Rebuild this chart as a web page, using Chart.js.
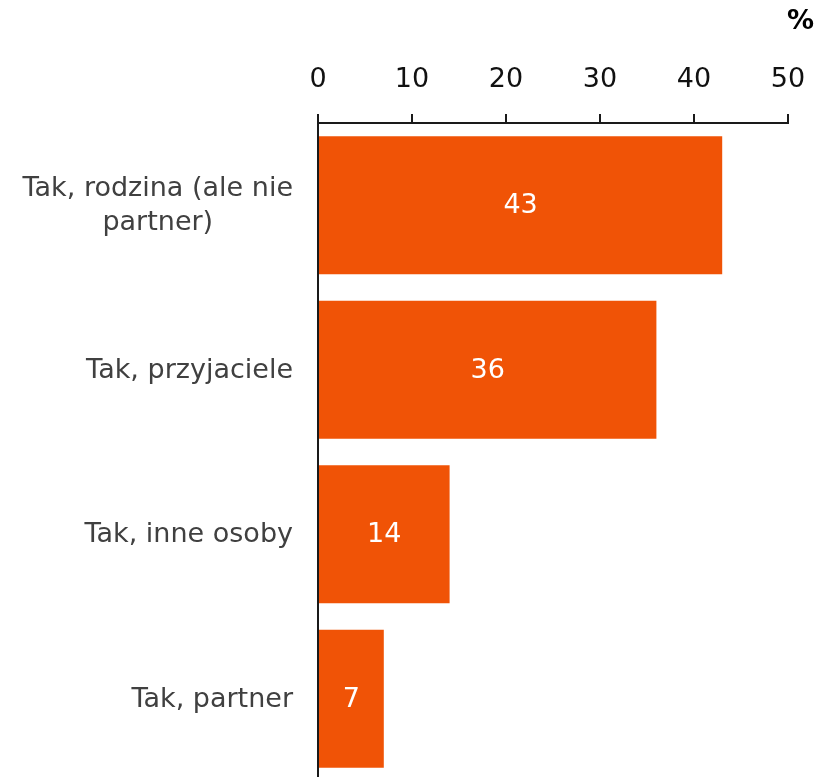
<!DOCTYPE html>
<html>
<head>
<meta charset="utf-8">
<script src="https://cdn.jsdelivr.net/npm/chart.js@4/dist/chart.umd.min.js"></script>
<style>
  html, body { margin: 0; padding: 0; background: #fff; overflow: hidden; }
  #wrap { width: 817px; height: 781px; position: relative; }
</style>
</head>
<body>
<div id="wrap"><canvas id="chart"></canvas></div>
<script>
// data
const categories = [
  ["Tak, rodzina (ale nie", "partner)"],
  ["Tak, przyjaciele"],
  ["Tak, inne osoby"],
  ["Tak, partner"]
];
const values = [43, 36, 14, 7];
const tickValues = [0, 10, 20, 30, 40, 50];

const FONT = "'DejaVu Sans', Verdana, sans-serif";
const SIZE = 27;

// category labels: lines centred on each other, block right aligned to the axis
const categoryLabels = {
  id: "categoryLabels",
  afterDraw(chart) {
    const ctx = chart.ctx;
    const y = chart.scales.y;
    const right = chart.chartArea.left - 25;
    const lineH = 34;
    ctx.save();
    ctx.font = SIZE + "px " + FONT;
    ctx.fillStyle = "#404040";
    ctx.textBaseline = "middle";
    ctx.textAlign = "center";
    categories.forEach((lines, i) => {
      const cy = y.getPixelForValue(i);
      const w = Math.max(...lines.map(l => ctx.measureText(l).width));
      const cx = right - w / 2;
      lines.forEach((l, j) => {
        ctx.fillText(l, cx, cy + 1 + (j - (lines.length - 1) / 2) * lineH);
      });
    });
    ctx.restore();
  }
};

// value labels in the bars and the % unit
const valueLabels = {
  id: "valueLabels",
  afterDatasetsDraw(chart) {
    const ctx = chart.ctx;
    const meta = chart.getDatasetMeta(0);
    ctx.save();
    ctx.font = SIZE + "px " + FONT;
    ctx.fillStyle = "#ffffff";
    ctx.textAlign = "center";
    ctx.textBaseline = "middle";
    meta.data.forEach((bar, i) => {
      ctx.fillText(String(values[i]), (bar.x + bar.base) / 2, bar.y + 1);
    });
    ctx.font = "bold " + SIZE + "px " + FONT;
    ctx.fillStyle = "#000";
    ctx.textAlign = "right";
    ctx.fillText("%", 814, 22);
    ctx.restore();
  }
};

new Chart(document.getElementById("chart"), {
  type: "bar",
  data: {
    labels: categories.map(c => c.join(" ")),
    datasets: [{
      data: values,
      backgroundColor: "#f05306",
      borderWidth: 0,
      barPercentage: 0.84,
      categoryPercentage: 1.0
    }]
  },
  options: {
    indexAxis: "y",
    responsive: true,
    maintainAspectRatio: false,
    animation: false,
    layout: { padding: { left: 0, right: 29, top: 0, bottom: 0 } },
    plugins: {
      legend: { display: false },
      tooltip: { enabled: false }
    },
    scales: {
      x: {
        position: "top",
        min: 0,
        max: 50,
        afterFit(scale) {
          scale.height = 123;
          scale.paddingLeft = 0;
          scale.paddingRight = 0;
        },
        afterBuildTicks(scale) { scale.ticks = tickValues.map(v => ({ value: v })); },
        ticks: {
          font: { family: FONT, size: SIZE },
          color: "#111",
          padding: 18
        },
        grid: {
          drawOnChartArea: false,
          drawTicks: true,
          tickLength: 9,
          color: "#1a1a1a",
          lineWidth: 2
        },
        border: { display: true, color: "#1a1a1a", width: 2 }
      },
      y: {
        afterFit(scale) { scale.width = 318; },
        ticks: { display: false },
        grid: { display: false, drawTicks: false },
        border: { display: true, color: "#1a1a1a", width: 2 }
      }
    }
  },
  plugins: [categoryLabels, valueLabels]
});
</script>
</body>
</html>
